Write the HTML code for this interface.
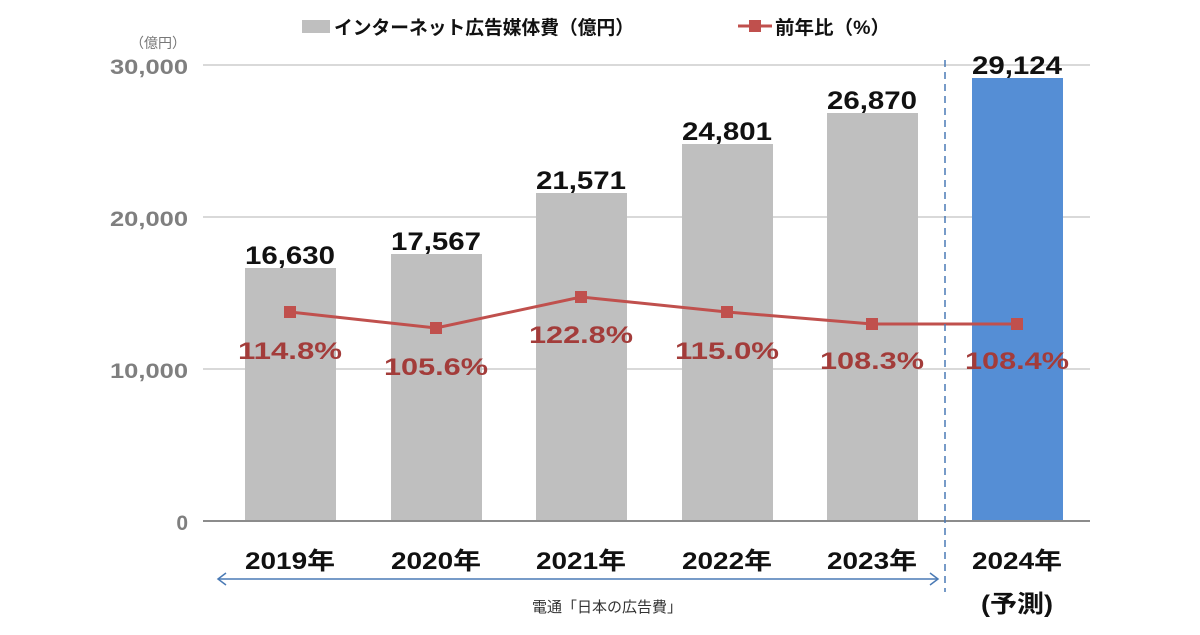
<!DOCTYPE html>
<html><head><meta charset="utf-8"><style>
body{margin:0;background:#fff;}
svg text{font-family:"Liberation Sans","Noto Sans CJK JP",sans-serif;}
</style></head><body>
<svg width="1200" height="630" xmlns="http://www.w3.org/2000/svg">
<rect width="1200" height="630" fill="#fff"/>
<!-- legend -->
<rect x="302" y="20" width="28" height="13" fill="#bfbfbf"/>
<text x="334" y="34" font-size="19" font-weight="bold" fill="#111" textLength="300" lengthAdjust="spacingAndGlyphs">インターネット広告媒体費（億円）</text>
<line x1="738" y1="26" x2="772" y2="26" stroke="#c0504d" stroke-width="3"/>
<rect x="749" y="20" width="12" height="12" fill="#c0504d"/>
<text x="775" y="34" font-size="19" font-weight="bold" fill="#111" textLength="115" lengthAdjust="spacingAndGlyphs">前年比（%）</text>
<!-- y axis -->
<text x="158" y="48" font-size="14" fill="#777" text-anchor="middle">（億円）</text>
<g font-size="21" font-weight="bold" fill="#7f7f7f" text-anchor="end">
<text x="188" y="74" textLength="78" lengthAdjust="spacingAndGlyphs">30,000</text>
<text x="188" y="226" textLength="78" lengthAdjust="spacingAndGlyphs">20,000</text>
<text x="188" y="378" textLength="78" lengthAdjust="spacingAndGlyphs">10,000</text>
<text x="188" y="530">0</text>
</g>
<g stroke="#d9d9d9" stroke-width="2">
<line x1="203" y1="65" x2="1090" y2="65"/>
<line x1="203" y1="217" x2="1090" y2="217"/>
<line x1="203" y1="369" x2="1090" y2="369"/>
</g>
<!-- bars -->
<g fill="#bfbfbf">
<rect x="245" y="268" width="91" height="253"/>
<rect x="391" y="254" width="91" height="267"/>
<rect x="536" y="193" width="91" height="328"/>
<rect x="682" y="144" width="91" height="377"/>
<rect x="827" y="113" width="91" height="408"/>
</g>
<rect x="972" y="78" width="91" height="443" fill="#558ed5"/>
<line x1="203" y1="521" x2="1090" y2="521" stroke="#8c8c8c" stroke-width="2"/>
<!-- value labels -->
<g font-size="25" font-weight="bold" fill="#111" text-anchor="middle">
<text x="290" y="264" textLength="90" lengthAdjust="spacingAndGlyphs">16,630</text>
<text x="436" y="250" textLength="90" lengthAdjust="spacingAndGlyphs">17,567</text>
<text x="581" y="189" textLength="90" lengthAdjust="spacingAndGlyphs">21,571</text>
<text x="727" y="140" textLength="90" lengthAdjust="spacingAndGlyphs">24,801</text>
<text x="872" y="109" textLength="90" lengthAdjust="spacingAndGlyphs">26,870</text>
<text x="1017" y="74" textLength="90" lengthAdjust="spacingAndGlyphs">29,124</text>
</g>
<!-- line -->
<polyline points="290,312 436,328 581,297 727,312 872,324 1017,324" fill="none" stroke="#c0504d" stroke-width="3"/>
<g fill="#c0504d">
<rect x="284" y="306" width="12" height="12"/>
<rect x="430" y="322" width="12" height="12"/>
<rect x="575" y="291" width="12" height="12"/>
<rect x="721" y="306" width="12" height="12"/>
<rect x="866" y="318" width="12" height="12"/>
<rect x="1011" y="318" width="12" height="12"/>
</g>
<g font-size="24" font-weight="bold" fill="#a33c3a" text-anchor="middle">
<text x="290" y="359" textLength="104" lengthAdjust="spacingAndGlyphs">114.8%</text>
<text x="436" y="375" textLength="104" lengthAdjust="spacingAndGlyphs">105.6%</text>
<text x="581" y="343" textLength="104" lengthAdjust="spacingAndGlyphs">122.8%</text>
<text x="727" y="359" textLength="104" lengthAdjust="spacingAndGlyphs">115.0%</text>
<text x="872" y="369" textLength="104" lengthAdjust="spacingAndGlyphs">108.3%</text>
<text x="1017" y="369" textLength="104" lengthAdjust="spacingAndGlyphs">108.4%</text>
</g>
<!-- dashed -->
<line x1="945" y1="60" x2="945" y2="592" stroke="#4a7ab5" stroke-width="1.5" stroke-dasharray="7,5"/>
<!-- x labels -->
<g font-size="24" font-weight="bold" fill="#111" text-anchor="middle">
<text x="290" y="569" textLength="90" lengthAdjust="spacingAndGlyphs">2019年</text>
<text x="436" y="569" textLength="90" lengthAdjust="spacingAndGlyphs">2020年</text>
<text x="581" y="569" textLength="90" lengthAdjust="spacingAndGlyphs">2021年</text>
<text x="727" y="569" textLength="90" lengthAdjust="spacingAndGlyphs">2022年</text>
<text x="872" y="569" textLength="90" lengthAdjust="spacingAndGlyphs">2023年</text>
<text x="1017" y="569" textLength="90" lengthAdjust="spacingAndGlyphs">2024年</text>
<text x="1017" y="612" textLength="72" lengthAdjust="spacingAndGlyphs">(予測)</text>
</g>
<!-- arrow -->
<g stroke="#4a7ab5" stroke-width="1.5" fill="none">
<line x1="218" y1="579" x2="938" y2="579"/>
<polyline points="226,573 218,579 226,585"/>
<polyline points="930,573 938,579 930,585"/>
</g>
<text x="607" y="612" font-size="15" fill="#333" text-anchor="middle">電通「日本の広告費」</text>
</svg>
</body></html>
